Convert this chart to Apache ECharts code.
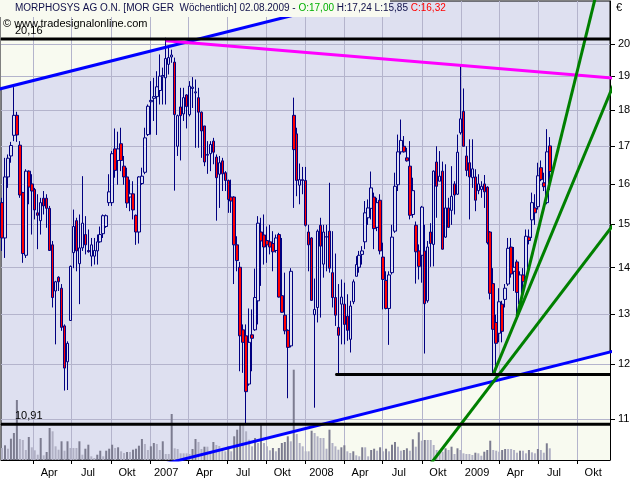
<!DOCTYPE html>
<html><head><meta charset="utf-8">
<script src="https://cdn.jsdelivr.net/npm/echarts@6/dist/echarts.min.js"></script>
<style>html,body{margin:0;padding:0;background:#fff}#c{width:640px;height:480px}</style>
</head><body><div id="c"></div>
<script>
// ---------- DATA ----------
const firstWeek = '2006-01-18'; // date of the first weekly bar (one bar per week)
const opens = [15.53,14.68,16.18,16.73,17.29,17.85,17.02,15.78,14.28,16.33,16.00,15.86,15.28,15.09,15.64,15.64,15.39,14.52,13.49,13.79,13.55,12.76,12.05,12.87,14.34,15.09,14.09,14.45,14.76,14.39,14.26,14.26,14.38,14.59,14.78,14.95,15.53,15.53,16.92,16.61,17.06,16.46,16.18,15.67,15.75,15.22,14.82,16.01,16.30,17.31,18.24,18.34,18.39,18.57,18.98,18.95,19.36,19.59,19.43,16.99,18.09,17.89,18.44,17.87,18.63,18.50,18.36,17.94,17.55,16.75,16.79,17.13,16.70,16.25,16.60,16.29,16.09,15.67,15.67,14.52,14.01,12.68,12.56,11.63,12.58,12.68,13.28,14.82,14.75,14.62,14.59,14.55,14.39,14.76,13.39,12.98,12.67,12.36,17.85,17.33,15.97,16.11,16.09,14.82,14.68,12.99,13.14,14.98,14.08,14.70,14.84,13.89,13.35,12.73,13.21,13.21,12.96,12.49,13.26,13.81,14.01,14.30,14.59,15.16,15.39,15.67,14.93,15.59,14.24,13.72,13.12,13.89,14.84,15.98,16.84,16.99,16.68,16.46,15.24,14.98,14.38,14.28,14.38,13.28,14.82,14.53,16.57,16.07,16.33,14.70,15.40,15.34,16.00,15.74,17.36,17.96,16.73,16.55,16.16,16.18,15.83,15.86,16.00,15.92,14.82,13.65,12.83,12.61,13.21,13.31,13.64,14.47,13.92,14.13,13.21,13.84,13.81,14.70,15.11,15.40,15.43,16.42,16.03,15.53,17.00];
const highs = [15.65,16.68,16.77,17.11,18.67,17.95,17.13,15.80,16.38,16.35,16.25,15.90,15.74,15.65,15.82,15.74,15.45,14.61,13.71,13.81,13.64,12.79,12.45,14.05,15.36,15.16,15.24,16.20,15.20,14.88,14.68,14.68,14.76,14.95,15.24,15.24,16.25,16.86,17.48,17.39,17.50,16.73,16.42,16.11,16.07,15.24,16.20,16.42,17.50,18.16,18.85,18.95,19.15,19.67,19.26,20.20,19.93,19.82,19.57,17.87,18.65,18.65,18.46,18.85,18.97,18.90,18.65,17.96,17.55,17.13,17.13,17.22,16.77,16.73,16.68,16.33,16.11,16.11,15.69,14.72,14.13,12.79,12.79,13.12,13.10,13.98,15.20,15.16,15.24,14.95,14.99,14.84,14.76,14.80,14.68,13.89,12.69,13.99,18.36,17.50,16.53,16.44,16.44,14.99,14.70,13.76,14.88,15.16,14.99,14.99,16.03,14.84,14.32,13.64,13.74,13.67,13.42,13.28,13.74,14.26,14.38,14.49,15.57,15.61,16.32,15.78,15.65,15.74,14.57,13.92,13.92,14.99,16.29,17.31,17.73,17.27,16.95,17.13,16.16,15.07,14.53,15.45,14.99,14.61,15.03,16.35,16.99,16.86,16.58,16.51,15.65,16.46,16.07,17.31,19.31,18.63,16.99,17.18,17.18,16.38,16.25,16.07,16.23,15.94,14.84,13.99,12.99,13.55,13.28,13.64,14.68,14.68,14.47,14.18,13.92,13.99,14.88,14.88,15.78,15.74,16.55,16.61,16.29,17.46,17.24];
const lows = [14.38,14.22,15.90,16.55,17.13,17.11,15.65,14.11,14.22,15.49,14.76,15.12,14.42,14.76,15.24,14.92,14.38,13.14,12.39,13.49,12.66,11.51,11.52,12.86,13.99,13.92,13.21,14.38,14.30,14.34,14.03,14.07,14.07,14.57,14.68,14.92,15.45,15.45,16.16,15.98,16.33,15.98,15.40,15.32,15.12,14.52,14.55,15.98,16.25,17.27,17.31,17.69,17.30,18.16,18.16,18.16,19.05,19.41,15.83,16.73,16.61,17.69,17.48,17.82,18.06,16.95,16.95,16.68,16.46,16.26,16.33,16.51,15.09,15.40,15.82,15.82,15.28,15.28,13.64,13.92,11.87,11.84,10.93,11.60,11.87,12.66,12.79,13.60,14.07,14.11,14.30,13.92,14.34,13.35,13.03,12.59,11.37,12.33,15.40,15.69,15.49,15.74,14.95,13.92,13.28,11.20,12.83,12.93,13.78,13.92,13.89,13.14,12.76,11.81,12.39,12.39,12.46,12.23,13.21,13.81,13.89,14.07,14.42,14.99,15.12,14.42,14.84,14.30,13.10,13.10,12.38,13.85,14.80,15.82,16.77,16.82,16.58,15.12,15.16,13.65,13.74,13.67,12.21,13.24,14.02,14.03,15.16,16.07,14.41,14.68,14.92,14.99,15.24,15.72,17.31,16.99,16.20,15.12,15.90,15.32,15.74,15.65,15.40,14.53,13.31,11.81,11.84,12.43,12.43,13.14,13.60,13.78,13.49,12.96,13.14,13.49,13.78,14.53,14.68,14.99,15.36,16.07,15.82,15.49,15.85];
const closes = [14.68,16.18,16.67,17.01,17.85,17.30,15.72,14.32,16.33,15.92,15.82,15.35,15.22,15.53,15.45,15.39,14.39,13.35,13.69,13.69,12.73,11.93,12.41,14.03,14.95,14.38,14.45,15.03,14.52,14.36,14.52,14.39,14.59,14.76,15.21,15.21,15.80,16.79,16.35,16.92,16.61,16.18,15.52,15.75,15.35,14.82,16.18,16.20,17.22,18.11,18.28,18.39,18.68,19.00,19.02,19.54,19.57,19.65,17.87,17.84,17.84,18.36,18.10,18.70,18.67,18.53,17.94,17.41,16.57,16.77,17.04,16.83,16.16,16.55,16.26,16.09,15.61,15.57,14.52,14.16,12.56,12.43,11.49,12.43,12.51,13.35,15.03,14.61,14.47,14.52,14.47,14.36,14.68,13.36,13.04,12.66,12.33,13.92,16.90,16.09,16.11,16.09,14.98,14.52,13.29,13.10,14.84,14.49,14.82,14.71,13.99,13.35,12.98,12.57,13.36,12.79,12.67,13.17,13.69,14.07,14.28,14.38,15.28,15.40,15.90,14.90,15.53,14.38,13.74,13.12,13.84,14.70,15.94,16.84,17.15,16.84,16.60,15.22,15.83,14.36,14.03,15.42,13.22,14.47,14.55,16.33,15.94,16.20,14.42,15.40,14.93,15.69,15.72,16.83,17.75,16.99,16.35,16.18,16.39,15.59,16.00,15.94,15.80,14.57,13.44,12.69,12.41,13.26,12.65,13.55,14.44,13.86,14.01,13.46,13.84,13.69,14.72,14.62,15.53,15.28,16.21,16.11,15.93,16.84,16.32];
const volumes = [120,147,113,213,270,600,210,200,100,230,127,97,53,220,47,80,320,287,137,103,187,93,187,120,120,120,187,53,113,153,37,20,53,93,37,93,113,153,120,127,87,70,80,80,103,113,143,210,160,100,137,170,160,100,187,60,60,460,117,110,67,67,67,60,110,210,180,110,133,133,73,180,150,140,100,87,137,87,237,303,353,353,287,203,137,220,170,353,170,137,97,120,87,120,170,180,237,187,903,260,170,137,87,87,293,270,237,220,220,113,303,170,137,103,127,147,87,70,87,47,37,127,127,37,100,113,93,127,87,113,87,153,180,133,93,100,117,93,207,133,277,193,200,200,200,150,100,100,83,117,100,133,60,117,100,67,60,60,50,73,67,43,83,100,193,100,93,83,100,110,110,110,100,73,93,93,67,100,77,67,110,100,73,167,117];
const xRange = ['2006-01-15T15:36:00Z', '2009-12-17T14:24:00Z'];
const yRange = [10.304, 21.418];
const priceTicks = [11, 12, 13, 14, 15, 16, 17, 18, 19, 20];
const quarterTicks = ['2006-04-01','2006-07-01','2006-10-01','2007-01-01','2007-04-01','2007-07-01','2007-10-01','2008-01-01','2008-04-01','2008-07-01','2008-10-01','2009-01-01','2009-04-01','2009-07-01','2009-10-01'];
const monthNames = ['', '', '', 'Apr', '', '', 'Jul', '', '', 'Okt', '', ''];
const resistance = 20.16;
const support = 10.91;
const support2 = { value: 11.81, from: '2008-03-12' };
const upperChannel = [['2006-01-01', 18.58], ['2009-01-01', 22.39]];
const lowerChannel = [['2007-01-01', 10.18], ['2010-01-01', 12.27]];
const magentaLine = [['2007-02-07', 20.10], ['2010-01-01', 18.93]];
const greenLine1 = [['2009-05-13', 12.96], ['2009-11-29', 22.50]];
const greenLine2 = [['2009-03-18', 11.81], ['2010-01-01', 18.93]];
const greenLine3 = [['2008-08-10', 9.60], ['2010-01-01', 15.08]];
const titleParts = { main: 'MORPHOSYS AG O.N. [MOR GER  Wöchentlich] 02.08.2009 - ', o: 'O:17,00', hl: ' H:17,24 L:15,85 ', c: 'C:16,32' };
const copyright = '© www.tradesignalonline.com';

// ---------- BUILD ----------
const DAY = 864e5;
const t = s => Date.parse(s.length === 10 ? s + 'T00:00:00Z' : s);
const L = Math.log;
const t0 = t(firstWeek);
const dates = opens.map((_, i) => t0 + i * 7 * DAY);
const xMin = t(xRange[0]), xMax = t(xRange[1]);

const candleData = dates.map((d, i) => [d, L(opens[i]), L(closes[i]), L(lows[i]), L(highs[i])]);
const volData = dates.map((d, i) => ({
  value: [d, volumes[i]],
  itemStyle: { color: (i > 0 && volumes[i] > volumes[i - 1]) ? '#7C7C90' : '#B0B0C4' }
}));
const pts = arr => arr.map(p => [t(p[0]), L(p[1])]);
const FONT = 'Liberation Sans';

function trend(data, color, z, extra) {
  return Object.assign({
    type: 'line', data: data, showSymbol: false, symbol: 'none', silent: true, clip: true,
    lineStyle: { color: color, width: 3 }, z: z, animation: false
  }, extra || {});
}
function hline(value, from, label) {
  const first = { value: [from, L(value)] };
  if (label) {
    first.label = { show: true, formatter: label, position: 'top', align: 'left', offset: [14, 3],
      color: '#000', fontSize: 11, fontFamily: FONT };
  }
  return {
    type: 'line', data: [first, { value: [xMax, L(value)] }], symbol: 'circle', symbolSize: 1,
    showSymbol: true, itemStyle: { color: '#000' }, silent: true, clip: true,
    lineStyle: { color: '#000', width: 3 }, z: 6, animation: false
  };
}

const chart = echarts.init(document.getElementById('c'));
chart.setOption({
  animation: false,
  backgroundColor: '#ffffff',
  grid: { left: 1, right: 30, top: 1, bottom: 20, show: true, backgroundColor: '#DEE0F0', borderColor: '#000', borderWidth: 1 },
  xAxis: {
    type: 'value', min: xMin, max: xMax, z: 2, scale: true,
    axisLine: { lineStyle: { color: '#000', width: 1 } },
    axisTick: { show: true, length: 4, customValues: quarterTicks.map(t), lineStyle: { color: '#000' } },
    axisLabel: {
      customValues: quarterTicks.map(s => t(s) + 38 * DAY), margin: 7,
      color: '#000', fontSize: 11, fontFamily: FONT,
      formatter: v => { const d = new Date(v - 38 * DAY); const m = d.getUTCMonth(); return m === 0 ? String(d.getUTCFullYear()) : monthNames[m]; }
    },
    splitLine: { show: true, lineStyle: { color: '#B4B4CC', width: 1 } }
  },
  yAxis: [{
    type: 'value', position: 'right', min: L(yRange[0]), max: L(yRange[1]), z: 2,
    axisLine: { show: true, lineStyle: { color: '#000' } },
    axisTick: { show: true, length: 5, customValues: priceTicks.map(L), lineStyle: { color: '#000' } },
    axisLabel: { customValues: priceTicks.map(L), margin: 8, color: '#000', fontSize: 11, fontFamily: FONT,
      formatter: v => String(Math.round(Math.exp(v))) },
    splitLine: { show: true, lineStyle: { color: '#B4B4CC', width: 1 } }
  }, {
    type: 'value', min: 0, max: 4590, show: false
  }],
  series: [
    trend(pts(upperChannel), 'transparent', 1, { lineStyle: { width: 0 }, areaStyle: { color: '#F8FAF0', opacity: 1, origin: 'end' } }),
    trend(pts(lowerChannel), 'transparent', 1, { lineStyle: { width: 0 }, areaStyle: { color: '#F8FAF0', opacity: 1, origin: 'start' } }),
    { type: 'bar', yAxisIndex: 1, data: volData, barWidth: 2, z: 3, silent: true, animation: false },
    { type: 'candlestick', data: candleData, encode: { x: 0, y: [1, 2, 3, 4] }, barWidth: 3, z: 4, silent: true,
      itemStyle: { color: '#DEE0F0', color0: '#FF0000', borderColor: '#000080', borderColor0: '#000080', borderWidth: 1 } },
    hline(resistance, xMin, '20,16'),
    hline(support, xMin, '10,91'),
    hline(support2.value, t(support2.from), null),
    trend(pts(upperChannel), '#0000FF', 5),
    trend(pts(lowerChannel), '#0000FF', 5),
    trend(pts(magentaLine), '#FF00FF', 5),
    trend(pts(greenLine1), '#008000', 5),
    trend(pts(greenLine2), '#008000', 5),
    trend(pts(greenLine3), '#008000', 5)
  ],
  graphic: [
    { type: 'rect', left: 0, top: 0, zlevel: 1, shape: { width: 390, height: 17 }, style: { fill: '#F8FAF0' }, z: 10 },
    { type: 'group', left: 4, top: 2, z: 11, zlevel: 1, children: [
      { type: 'line', shape: { x1: 3, y1: 0, x2: 3, y2: 13 }, style: { stroke: '#000080', lineWidth: 1 } },
      { type: 'rect', shape: { x: 0.5, y: 3.5, width: 5, height: 6 }, style: { fill: '#F8FAF0', stroke: '#000080', lineWidth: 1 } }
    ] },
    { type: 'text', left: 15, top: 3, z: 11, zlevel: 1, style: {
      text: '{n|' + titleParts.main + '}{g|' + titleParts.o + '}{n|' + titleParts.hl + '}{r|' + titleParts.c + '}',
      font: '10px "' + FONT + '"',
      rich: { n: { fill: '#10104A', fontSize: 10, fontFamily: FONT }, g: { fill: '#00B000', fontSize: 10, fontFamily: FONT }, r: { fill: '#FF0000', fontSize: 10, fontFamily: FONT } }
    } },
    { type: 'text', left: 3, top: 18, z: 11, zlevel: 1, style: { text: copyright, fill: '#000', font: '11px "' + FONT + '"' } },
    { type: 'text', left: 616, top: 2, z: 11, zlevel: 1, style: { text: '€', fill: '#000', font: '11px "' + FONT + '"' } }
  ]
});
</script></body></html>
